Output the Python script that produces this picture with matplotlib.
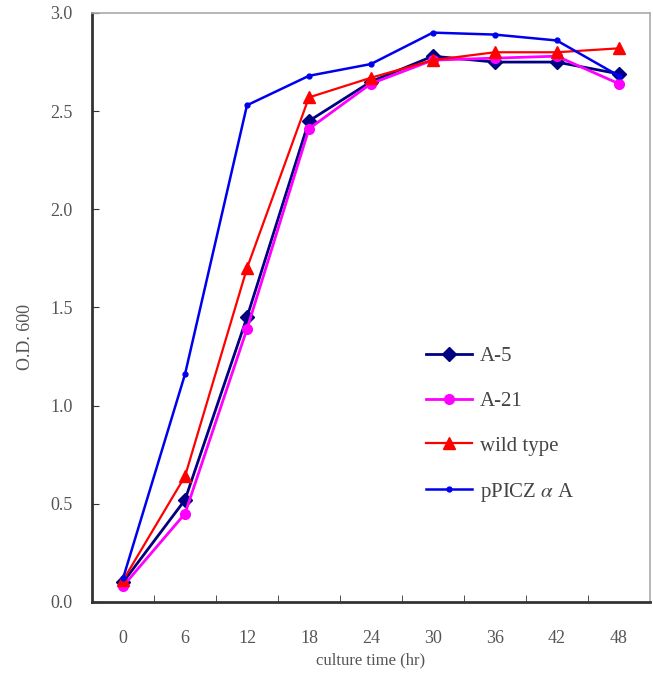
import numpy as np
import matplotlib.pyplot as plt
from matplotlib.ticker import FixedLocator

plt.rcParams['font.family'] = ['Liberation Serif', 'DejaVu Serif']
plt.rcParams['mathtext.fontset'] = 'stix'

hours = [0, 6, 12, 18, 24, 30, 36, 42, 48]
a5 = [0.10, 0.52, 1.45, 2.45, 2.65, 2.78, 2.75, 2.75, 2.69]
a21 = [0.08, 0.45, 1.39, 2.41, 2.64, 2.76, 2.77, 2.78, 2.64]
wild = [0.11, 0.64, 1.70, 2.57, 2.67, 2.76, 2.80, 2.80, 2.82]
ppicz = [0.12, 1.16, 2.53, 2.68, 2.74, 2.90, 2.89, 2.86, 2.68]

fig = plt.figure(figsize=(6.53, 6.84), dpi=100)
ax = fig.add_axes([0.141, 0.12, 0.854, 0.861])

ax.plot(hours, a5, color='#000080', marker='D', markersize=7, lw=2, label='A-5')
ax.plot(hours, a21, color='#ff00ff', marker='o', markersize=7, lw=2, label='A-21')
ax.plot(hours, wild, color='#ff0000', marker='^', markersize=8, lw=1.6, label='wild type')
ax.plot(hours, ppicz, color='#0000ee', marker='o', markersize=3.5, lw=1.8,
        label='pPICZ $\\alpha$ A')

ax.set_xlim(-3, 51)
ax.set_ylim(0, 3.0)
ax.set_xticks(hours)
ax.xaxis.set_minor_locator(FixedLocator([3, 9, 15, 21, 27, 33, 39, 45]))
ax.tick_params(axis='x', which='major', length=0, pad=20, labelsize=13, colors='#555555')
ax.tick_params(axis='x', which='minor', length=5, direction='in', color='#333333')
ax.set_yticks(np.arange(0, 3.01, 0.5))
ax.set_yticklabels([f'{v:.1f}' for v in np.arange(0, 3.01, 0.5)])
ax.tick_params(axis='y', length=5, direction='in', pad=14, labelsize=13,
               colors='#555555')
ax.tick_params(axis='y', color='#333333')

for s in ['left', 'bottom']:
    ax.spines[s].set_linewidth(2)
    ax.spines[s].set_color('#333333')
for s in ['top', 'right']:
    ax.spines[s].set_linewidth(1.2)
    ax.spines[s].set_color('#aaaaaa')

ax.set_xlabel('culture time (hr)', fontsize=12, color='#555555', labelpad=4)
ax.set_ylabel('O.D. 600', fontsize=13, color='#555555', labelpad=10)
ax.yaxis.set_label_coords(-0.105, 0.45)

leg = ax.legend(loc='upper left', bbox_to_anchor=(0.565, 0.465), frameon=False,
                fontsize=15, labelspacing=1.2, handlelength=2.2, numpoints=1,
                handletextpad=0.4)
for t in leg.get_texts():
    t.set_color('#444444')

fig.savefig('out.png', dpi=100)
